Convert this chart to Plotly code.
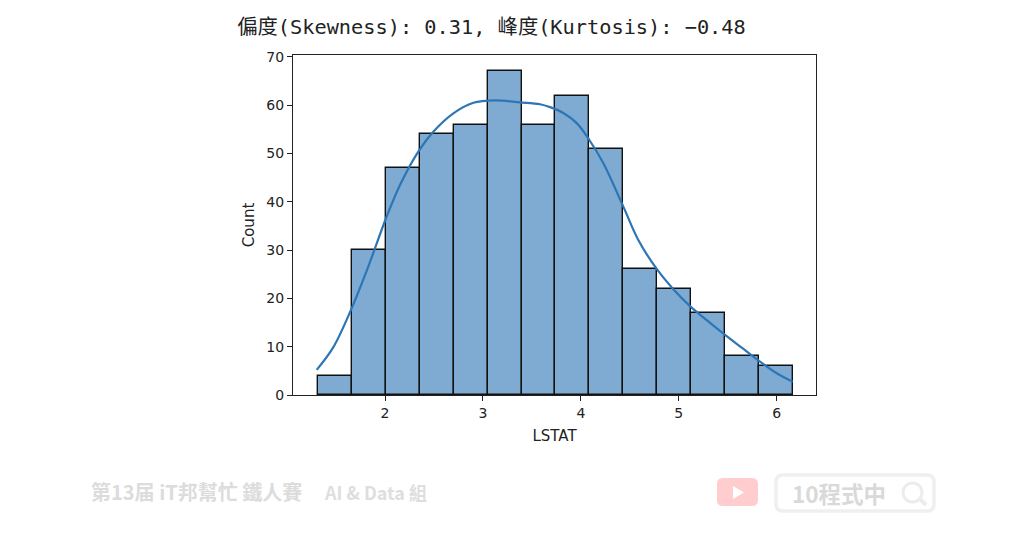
import plotly.graph_objects as go

# Histogram
bin_start = 1.319
bin_width = 0.346
counts = [4, 30, 47, 54, 56, 67, 56, 62, 51, 26, 22, 17, 8, 6]

# Density curve
kde_x = [1.302, 1.469, 1.660, 1.829, 2.010, 2.153, 2.340, 2.493, 2.698, 2.902, 3.124, 3.379, 3.583, 3.685,
         3.821, 3.958, 4.087, 4.230, 4.434, 4.587, 4.775, 4.945, 5.115, 5.286, 5.463, 5.643, 5.830, 6.001, 6.164]
kde_y = [5.2, 9.8, 18.0, 26.6, 36.6, 43.5, 50.4, 54.5, 58.3, 60.5, 61.0, 60.6, 60.2, 59.6,
         58.4, 56.3, 52.8, 48.0, 39.0, 32.1, 26.1, 21.9, 18.4, 15.5, 12.6, 9.8, 6.9, 4.5, 2.75]

title_text = "偏度(Skewness): 0.31, 峰度(Kurtosis): −0.48"
x_label = "LSTAT"
y_label = "Count"
x_ticks = [2, 3, 4, 5, 6]
y_ticks = [0, 10, 20, 30, 40, 50, 60, 70]
banner_left = "第13届 iT邦幫忙 鐵人賽"
banner_mid = "AI &amp; Data 組"
banner_right = "10程式中"

# The page puts the figure 8 px in from the window's corner
PAGE = 8
W, H = 1024 - 2 * PAGE, 541 - 2 * PAGE
L, R, T, B = 293, 816, 55, 395


def px(x):
    return (x - L) / (R - L)


def py(y):
    return (B - y) / (B - T)


def round_rect(x0, y0, x1, y1, r):
    a, b, c, d = px(x0), px(x1), py(y0), py(y1)
    rx, ry = r / (R - L), r / (B - T)
    return (f"M{a+rx},{c} L{b-rx},{c} Q{b},{c} {b},{c-ry} L{b},{d+ry} Q{b},{d} {b-rx},{d} "
            f"L{a+rx},{d} Q{a},{d} {a},{d+ry} L{a},{c-ry} Q{a},{c} {a+rx},{c} Z")


centers = [bin_start + bin_width * (i + 0.5) for i in range(len(counts))]

fig = go.Figure()
fig.add_bar(x=centers, y=counts, width=bin_width,
            marker=dict(color="#7fabd2", line=dict(color="#111111", width=1.4)))
fig.add_scatter(x=kde_x, y=kde_y, mode="lines",
                line=dict(color="#2c76b6", width=2.2, shape="spline", smoothing=1.0))

shapes = [
    dict(type="path", path=round_rect(717, 478, 758, 506, 6), xref="paper", yref="paper",
         fillcolor="#ffcdcd", line=dict(width=0), layer="above"),
    dict(type="path", path=f"M{px(733)},{py(486)} L{px(744)},{py(492.5)} L{px(733)},{py(499)} Z",
         xref="paper", yref="paper", fillcolor="#ffffff", line=dict(width=0), layer="above"),
    dict(type="path", path=round_rect(776, 475, 934, 511, 7), xref="paper", yref="paper",
         fillcolor="rgba(0,0,0,0)", line=dict(color="#efefef", width=3.5), layer="above"),
    dict(type="circle", x0=px(903), x1=px(922), y0=py(502), y1=py(483), xref="paper", yref="paper",
         line=dict(color="#ececec", width=3), layer="above"),
    dict(type="line", x0=px(919), x1=px(926), y0=py(498), y1=py(505), xref="paper", yref="paper",
         line=dict(color="#ececec", width=4), layer="above"),
]

cjk = "Noto Sans CJK TC"
annotations = [
    dict(text=banner_left, x=px(89), y=py(492), xref="paper", yref="paper", xanchor="left", yanchor="middle",
         showarrow=False, font=dict(family=cjk, size=20, color="#dcdcdc", weight="bold")),
    dict(text=banner_mid, x=px(322), y=py(492), xref="paper", yref="paper", xanchor="left", yanchor="middle",
         showarrow=False, font=dict(family=cjk, size=18, color="#dedede", weight="bold")),
    dict(text=banner_right, x=px(790), y=py(493), xref="paper", yref="paper", xanchor="left", yanchor="middle",
         showarrow=False, font=dict(family=cjk, size=22.5, color="#d9d9d9", weight="bold")),
]

tick_font = dict(family="DejaVu Sans", size=14, color="#222222")
label_font = dict(family="DejaVu Sans", size=15, color="#222222")
fig.update_layout(
    width=W, height=H, autosize=False,
    margin=dict(l=L - PAGE, r=W - (R - PAGE), t=T - PAGE, b=H - (B - PAGE)),
    paper_bgcolor="#ffffff", plot_bgcolor="#ffffff",
    showlegend=False, bargap=0,
    title=dict(text=title_text, x=(491.5 - PAGE) / W, xanchor="center", xref="container",
               y=1 - (27 - PAGE) / H, yanchor="middle", yref="container",
               font=dict(family="DejaVu Sans Mono, Noto Sans CJK TC", size=20.3, color="#222222")),
    xaxis=dict(range=[1.060, 6.402], tickvals=x_ticks, showgrid=False, zeroline=False, showline=True,
               mirror=True, linecolor="#222222", linewidth=1, ticks="outside", ticklen=5, tickcolor="#222222",
               tickfont=tick_font, title=dict(text=x_label, font=label_font, standoff=10)),
    yaxis=dict(range=[0, 70.4], tickvals=y_ticks, showgrid=False, zeroline=False, showline=True,
               mirror=True, linecolor="#222222", linewidth=1, ticks="outside", ticklen=5, tickcolor="#222222",
               tickfont=tick_font, title=dict(text=y_label, font=label_font, standoff=8)),
    shapes=shapes, annotations=annotations,
)

fig.write_html("out.html")
